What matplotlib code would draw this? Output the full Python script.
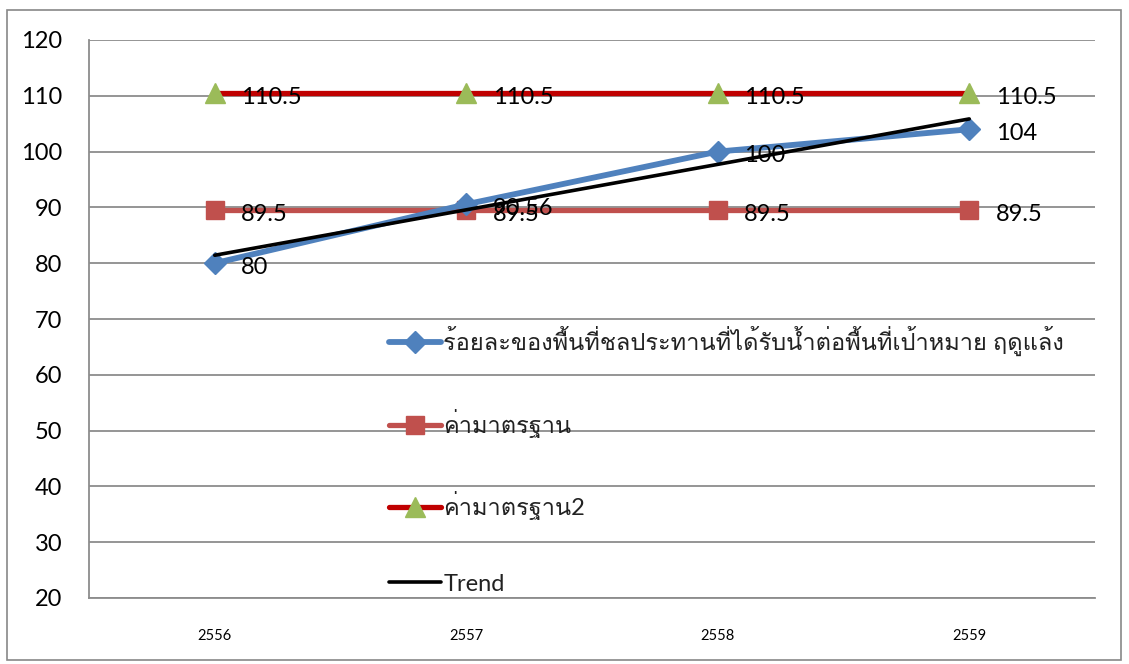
import matplotlib
matplotlib.use("Agg")
import matplotlib.pyplot as plt
from matplotlib import font_manager
from matplotlib.ft2font import FT2Font
from matplotlib.patches import Rectangle
import numpy as np

years = ["2556", "2557", "2558", "2559"]
pct_irrigated = [80, 90.56, 100, 104]
standard1 = [89.5, 89.5, 89.5, 89.5]
standard2 = [110.5, 110.5, 110.5, 110.5]
label_pct = "ร้อยละของพื้นที่ชลประทานที่ได้รับน้ำต่อพื้นที่เป้าหมาย ฤดูแล้ง"
label_std1 = "ค่ามาตรฐาน"
label_std2 = "ค่ามาตรฐาน2"
label_trend = "Trend"
yticks = [20, 30, 40, 50, 60, 70, 80, 90, 100, 110, 120]

# find a font with Thai glyphs
thai_family = None
for f in font_manager.fontManager.ttflist:
    try:
        cm = FT2Font(f.fname).get_charmap()
        if 0x0E23 in cm and 0x0E49 in cm:
            thai_family = f.name
            break
    except Exception:
        pass
families = ["Lato", "DejaVu Sans"]
if thai_family:
    families = ["Lato", thai_family, "DejaVu Sans"]
plt.rcParams["font.family"] = families

fig = plt.figure(figsize=(11.29, 6.64), dpi=100)
W, H = 1129, 664
ax = fig.add_axes([89 / W, 1 - 598 / H, 1006 / W, 558 / H])

# outer border
fig.patches.append(Rectangle((7 / W, 1 - 660 / H), 1114 / W, 650 / H,
                             transform=fig.transFigure, fill=False,
                             edgecolor="#888888", linewidth=1.2))

x = np.arange(len(years)) + 0.5
blue = "#4F81BD"
red = "#C0504D"
dred = "#C00000"
green = "#9BBB59"

ax.plot(x, standard2, color=dred, lw=3.8, marker="^", ms=15, mfc=green, mec=green,
        label=label_std2, zorder=3, solid_capstyle="round")
ax.plot(x, standard1, color=red, lw=3.8, marker="s", ms=13, mfc=red, mec=red,
        label=label_std1, zorder=3, solid_capstyle="round")
ax.plot(x, pct_irrigated, color=blue, lw=4.2, marker="D", ms=11, mfc=blue, mec=blue,
        label=label_pct, zorder=4, solid_capstyle="round")
coef = np.polyfit(np.arange(len(years)), pct_irrigated, 1)
trend = np.polyval(coef, np.arange(len(years)))
ax.plot(x, trend, color="black", lw=2.6, label=label_trend, zorder=5,
        solid_capstyle="round")

def fmt(v):
    return ("%g" % v)

for series in (standard2, standard1, pct_irrigated):
    for xi, v in zip(x, series):
        ax.annotate(fmt(v), (xi, v), xytext=(19, -3), textcoords="offset points",
                    ha="left", va="center", fontsize=17, color="black", zorder=6)

ax.set_xlim(0, 4)
ax.set_ylim(20, 120)
ax.set_yticks(yticks)
ax.set_xticks(x)
ax.set_xticklabels(years, fontsize=10.5)
ax.tick_params(axis="y", labelsize=17, length=0, pad=19)
ax.tick_params(axis="x", length=0, pad=22)
ax.yaxis.grid(True, color="#8c8c8c", lw=1.3)
ax.set_axisbelow(True)
for s in ("top", "right"):
    ax.spines[s].set_visible(False)
for s in ("left", "bottom"):
    ax.spines[s].set_color("#8c8c8c")
    ax.spines[s].set_linewidth(1.3)

handles, labels = ax.get_legend_handles_labels()
order = [2, 1, 0, 3]
leg = ax.legend([handles[i] for i in order], [labels[i] for i in order],
                loc="upper left", bbox_to_anchor=((389 - 89) / 1006, (598 - 326) / 558),
                frameon=False, fontsize=17, labelspacing=2.25, handlelength=2.2,
                handletextpad=0.1, borderpad=0, borderaxespad=0)
for t in leg.get_texts():
    t.set_color("#222222")

fig.savefig("out.png", dpi=100)
